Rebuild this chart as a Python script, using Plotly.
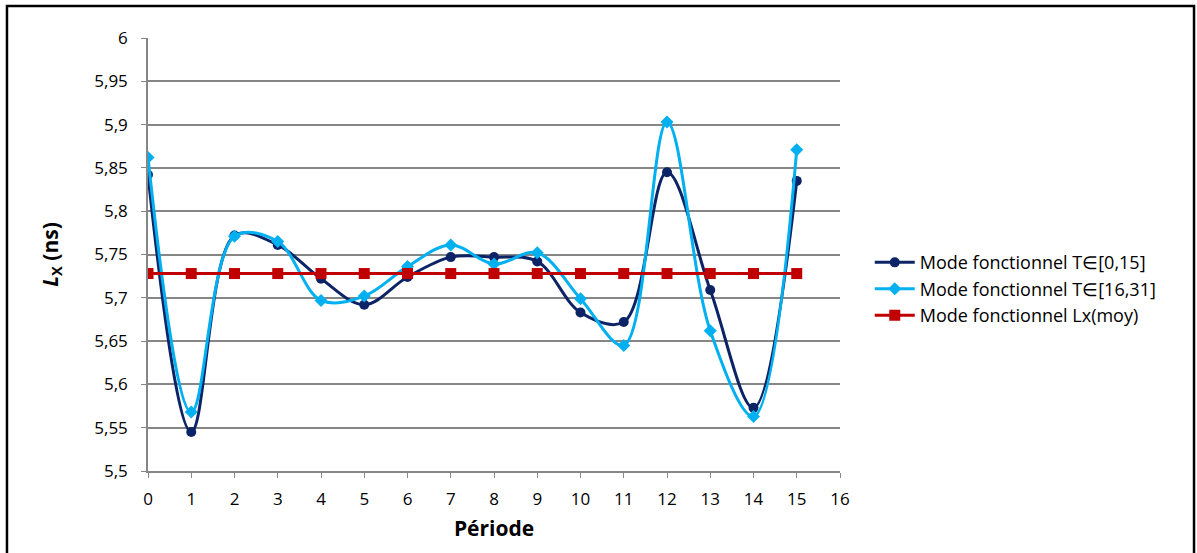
import plotly.graph_objects as go

# Period index (x)
periode = list(range(16))

# L_X values (ns)
lx_t0_15 = [5.842, 5.545, 5.772, 5.761, 5.722, 5.692, 5.724, 5.747,
            5.747, 5.742, 5.683, 5.672, 5.845, 5.709, 5.573, 5.835]
lx_t16_31 = [5.862, 5.568, 5.771, 5.765, 5.697, 5.702, 5.736, 5.761,
             5.739, 5.752, 5.699, 5.645, 5.903, 5.662, 5.563, 5.871]
lx_moy = [5.728] * 16

# Tick labels (French decimal comma)
y_tickvals = [5.5, 5.55, 5.6, 5.65, 5.7, 5.75, 5.8, 5.85, 5.9, 5.95, 6.0]
y_ticktext = ["5,5", "5,55", "5,6", "5,65", "5,7", "5,75", "5,8", "5,85", "5,9", "5,95", "6"]
x_tickvals = list(range(17))

font_family = "'Open Sans', sans-serif"

fig = go.Figure()

fig.add_trace(go.Scatter(
    x=periode, y=lx_t0_15,
    mode='lines+markers',
    name='Mode fonctionnel T∈[0,15]',
    line=dict(color='#0C2466', width=3, shape='spline', smoothing=1),
    marker=dict(symbol='circle', size=10, color='#0C2466'),
))

fig.add_trace(go.Scatter(
    x=periode, y=lx_t16_31,
    mode='lines+markers',
    name='Mode fonctionnel T∈[16,31]',
    line=dict(color='#00B0F0', width=3, shape='spline', smoothing=1),
    marker=dict(symbol='diamond', size=10, color='#00B0F0'),
))

fig.add_trace(go.Scatter(
    x=periode, y=lx_moy,
    mode='lines+markers',
    name='Mode fonctionnel Lx(moy)',
    line=dict(color='#C00000', width=3),
    marker=dict(symbol='square', size=11, color='#C00000'),
))

# Outer chart frame
fig.add_shape(type='rect', xref='paper', yref='paper',
              x0=-0.2038, x1=1.5116, y0=-0.25, y1=1.0739,
              line=dict(color='black', width=2.5))

fig.update_layout(
    width=1197, height=553,
    margin=dict(l=148, r=357, t=38, b=82),
    paper_bgcolor='white', plot_bgcolor='white',
    font=dict(family=font_family, size=17, color='black'),
    showlegend=True,
    legend=dict(x=1.043, y=0.42, xanchor='left', yanchor='middle',
                font=dict(size=18), tracegroupgap=0, itemwidth=40,
                bgcolor='rgba(0,0,0,0)'),
    xaxis=dict(
        range=[0, 16], tickvals=x_tickvals, showgrid=False,
        showline=True, linecolor='#868686', linewidth=1.5,
        ticks='outside', ticklen=5, tickcolor='#868686',
        ticklabelstandoff=7, zeroline=False,
        title=dict(text='<b>Période</b>', font=dict(size=21), standoff=12),
    ),
    yaxis=dict(
        range=[5.5, 6.0], tickvals=y_tickvals, ticktext=y_ticktext,
        showgrid=True, gridcolor='#868686', gridwidth=1.5,
        showline=True, linecolor='#868686', linewidth=1.5,
        ticks='outside', ticklen=5, tickcolor='#868686',
        ticklabelstandoff=10, zeroline=False,
        title=dict(text='<b><i>L</i><sub>X</sub> (ns)</b>', font=dict(size=21), standoff=30),
    ),
)

fig.write_html("out.html", config={'displayModeBar': False},
               post_script="document.body.style.margin='0';")
